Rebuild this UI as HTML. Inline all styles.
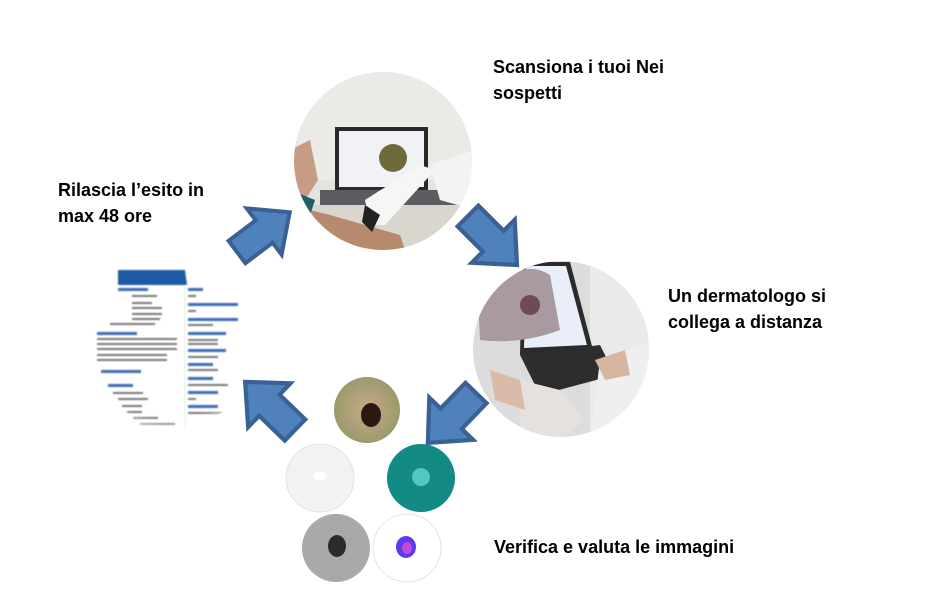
<!DOCTYPE html>
<html><head><meta charset="utf-8"><style>
html,body{margin:0;padding:0;background:#fff;}
body{width:925px;height:605px;position:relative;overflow:hidden;font-family:"Liberation Sans",Arial,sans-serif;}
.t{position:absolute;font-weight:bold;font-size:18px;line-height:26px;color:#000;}
svg{position:absolute;left:0;top:0;}
</style></head><body>
<svg width="925" height="605" viewBox="0 0 925 605">
<defs>
<clipPath id="c1"><circle cx="383" cy="161" r="89"/></clipPath>
<clipPath id="c2"><circle cx="561" cy="349" r="88"/></clipPath>
<clipPath id="c3"><circle cx="165" cy="330" r="100"/></clipPath>
<radialGradient id="mole" cx="50%" cy="50%" r="50%"><stop offset="0" stop-color="#c9a98a"/><stop offset="1" stop-color="#9b9a6c"/></radialGradient>
<radialGradient id="fade" cx="50%" cy="50%" r="50%"><stop offset="0.8" stop-color="#fff" stop-opacity="0"/><stop offset="1" stop-color="#fff" stop-opacity="1"/></radialGradient>
<filter id="bl"><feGaussianBlur stdDeviation="0.7"/></filter>
<polygon id="arr" points="0,-14 34,-14 34,-29 66,0 34,29 34,14 0,14"/>
</defs>
<!-- top photo -->
<g clip-path="url(#c1)">
<rect x="290" y="70" width="190" height="190" fill="#e4e3df"/>
<rect x="290" y="70" width="190" height="110" fill="#ebeae6"/>
<rect x="335" y="127" width="93" height="65" fill="#2a2a2e"/>
<rect x="339" y="131" width="85" height="56" fill="#f1f2f6"/>
<circle cx="393" cy="158" r="14" fill="#6e6a3c"/>
<rect x="320" y="190" width="140" height="20" fill="#5b5b60"/>
<rect x="290" y="205" width="190" height="50" fill="#d9d6d0"/>
<path d="M290,205 L330,215 L400,235 L405,250 L290,250Z" fill="#b88a6d"/>
<path d="M290,150 L310,140 L318,180 L305,200 L290,200Z" fill="#c69d82"/>
<path d="M290,190 L315,200 L310,215 L290,210Z" fill="#1f5f66"/>
<path d="M365,200 L420,165 L435,170 L385,225 L370,225Z" fill="#f6f6f6"/>
<path d="M365,205 L380,215 L372,232 L362,222Z" fill="#222"/>
<path d="M430,165 L475,150 L475,210 L440,200Z" fill="#f3f3f4"/>
</g>
<!-- right photo -->
<g clip-path="url(#c2)">
<rect x="470" y="258" width="185" height="185" fill="#dcdcdc"/>
<rect x="590" y="258" width="65" height="185" fill="#e9ebea"/>
<polygon points="522,262 570,262 593,350 520,355" fill="#2b2b2b"/>
<polygon points="526,266 566,266 587,345 524,348" fill="#e9eef8"/>
<path d="M478,300 Q520,255 550,275 L560,330 Q520,345 480,340Z" fill="#a89aa0"/>
<circle cx="530" cy="305" r="10" fill="#6e4a55"/>
<polygon points="520,355 600,345 615,375 540,395" fill="#2d2d30"/>
<path d="M520,380 L560,390 L585,420 L560,440 L520,440Z" fill="#e5e1de"/>
<path d="M600,360 L655,340 L655,440 L590,440Z" fill="#efeff0"/>
<path d="M595,360 L625,350 L630,375 L605,380Z" fill="#d7b6a0"/>
<path d="M490,370 L520,380 L525,410 L495,400Z" fill="#d9bba7"/>
</g>
<!-- report -->
<g clip-path="url(#c3)">
<rect x="60" y="230" width="220" height="210" fill="#fff"/>
<g filter="url(#bl)">
<path d="M118,270 L185,270 L187,285 L118,285Z" fill="#1d5aa6"/>
<line x1="185" y1="286" x2="185" y2="430" stroke="#e6e6e6"/>
<g fill="#3a6ab4">
<rect x="118" y="288" width="30" height="3"/><rect x="188" y="288" width="15" height="3"/>
<rect x="188" y="303" width="50" height="3"/><rect x="188" y="318" width="50" height="3"/>
<rect x="188" y="332" width="38" height="3"/><rect x="188" y="349" width="38" height="3"/>
<rect x="188" y="363" width="25" height="3"/><rect x="188" y="377" width="25" height="3"/>
<rect x="188" y="391" width="30" height="3"/><rect x="188" y="405" width="30" height="3"/>
<rect x="97" y="332" width="40" height="3"/><rect x="101" y="370" width="40" height="3"/>
<rect x="108" y="384" width="25" height="3"/>
</g>
<g fill="#777">
<rect x="132" y="295" width="25" height="2"/><rect x="132" y="302" width="20" height="2"/>
<rect x="132" y="307" width="30" height="2"/><rect x="132" y="313" width="30" height="2"/>
<rect x="132" y="318" width="28" height="2"/><rect x="110" y="323" width="45" height="2"/>
<rect x="97" y="338" width="80" height="2"/><rect x="97" y="343" width="80" height="2"/>
<rect x="97" y="348" width="80" height="2"/><rect x="97" y="354" width="70" height="2"/>
<rect x="97" y="359" width="70" height="2"/>
<rect x="188" y="295" width="8" height="2"/><rect x="188" y="310" width="8" height="2"/>
<rect x="188" y="324" width="25" height="2"/><rect x="188" y="339" width="30" height="2"/>
<rect x="188" y="343" width="30" height="2"/><rect x="188" y="356" width="30" height="2"/>
<rect x="188" y="369" width="30" height="2"/><rect x="188" y="384" width="40" height="2"/>
<rect x="188" y="398" width="8" height="2"/><rect x="188" y="412" width="40" height="2"/>
<rect x="113" y="392" width="30" height="2"/><rect x="118" y="398" width="30" height="2"/>
<rect x="122" y="405" width="20" height="2"/><rect x="127" y="411" width="15" height="2"/>
<rect x="133" y="417" width="25" height="2"/><rect x="140" y="423" width="35" height="2"/>
</g>
</g>
<rect x="60" y="230" width="220" height="210" fill="url(#fade)"/>
</g>
<!-- small circles -->
<circle cx="367" cy="410" r="33" fill="url(#mole)"/>
<ellipse cx="371" cy="415" rx="10" ry="12" fill="#2a1812"/>
<circle cx="320" cy="478" r="34" fill="#f3f2f3" stroke="#dcdce6" stroke-width="0.8"/>
<ellipse cx="320" cy="476" rx="6" ry="5" fill="#fff"/>
<circle cx="421" cy="478" r="34" fill="#128b85"/>
<ellipse cx="421" cy="477" rx="9" ry="9" fill="#53c7bd"/>
<circle cx="336" cy="548" r="34" fill="#a9a9a9"/>
<ellipse cx="337" cy="546" rx="9" ry="11" fill="#2b2b2b"/>
<circle cx="407" cy="548" r="34" fill="#fff" stroke="#dcdce6" stroke-width="0.8"/>
<ellipse cx="406" cy="547" rx="10" ry="11" fill="#5b3cf0"/>
<ellipse cx="407" cy="548" rx="5" ry="6" fill="#c24bd6"/>
<!-- arrows -->
<g fill="#4f81bd" stroke="#3a6194" stroke-width="4" stroke-linejoin="miter">
<use href="#arr" transform="translate(237,252) rotate(-37)"/>
<use href="#arr" transform="translate(468,216) rotate(45) scale(1.05)"/>
<use href="#arr" transform="translate(476,393) rotate(134) scale(1.05)"/>
<use href="#arr" transform="translate(295,430) rotate(-136) scale(1.05)"/>
</g>
</svg>
<div class="t" style="left:493px;top:54px;">Scansiona i tuoi Nei<br>sospetti</div>
<div class="t" style="left:58px;top:177px;">Rilascia l’esito in<br>max 48 ore</div>
<div class="t" style="left:668px;top:283px;">Un dermatologo si<br>collega a distanza</div>
<div class="t" style="left:494px;top:534px;">Verifica e valuta le immagini</div>
</body></html>
